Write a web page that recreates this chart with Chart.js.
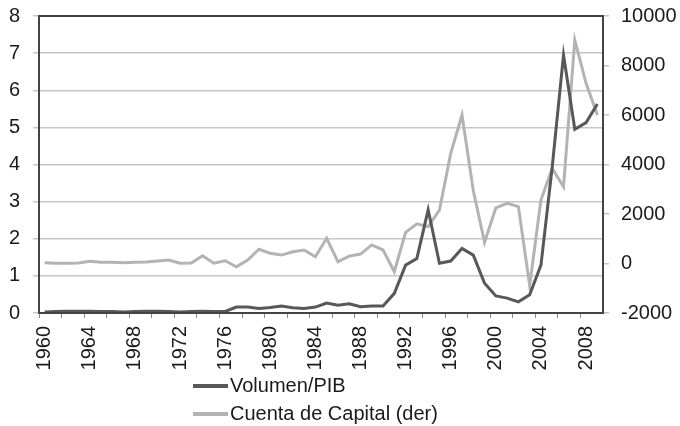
<!DOCTYPE html>
<html>
<head>
<meta charset="utf-8">
<script src="https://cdn.jsdelivr.net/npm/chart.js@4/dist/chart.umd.min.js"></script>
<style>
  body { margin: 0; background: #fff; }
  #wrap { position: relative; width: 680px; height: 426px; }
  #legend { position: absolute; left: 193px; top: 371px; font: 20px "Liberation Sans", Arial, sans-serif; color: #1a1a1a; }
  .item { height: 28px; line-height: 28px; white-space: nowrap; }
  .swatch { display: inline-block; width: 35px; height: 4px; vertical-align: middle; margin-right: 2px; position: relative; top: -1px; }
</style>
</head>
<body>
<div id="wrap">
  <canvas id="chart" width="680" height="426"></canvas>
  <div id="legend"></div>
</div>
<script>
// Years on the category axis
const years = ['1960', '1961', '1962', '1963', '1964', '1965', '1966', '1967', '1968', '1969',
    '1970', '1971', '1972', '1973', '1974', '1975', '1976', '1977', '1978', '1979',
    '1980', '1981', '1982', '1983', '1984', '1985', '1986', '1987', '1988', '1989',
    '1990', '1991', '1992', '1993', '1994', '1995', '1996', '1997', '1998', '1999',
    '2000', '2001', '2002', '2003', '2004', '2005', '2006', '2007', '2008', '2009'];

// Volumen/PIB (left axis)
const volumenPib = [0.03, 0.04, 0.05, 0.05, 0.05, 0.04, 0.04, 0.03, 0.04, 0.05,
    0.05, 0.04, 0.03, 0.04, 0.05, 0.04, 0.04, 0.16, 0.16, 0.12,
    0.15, 0.19, 0.14, 0.12, 0.16, 0.27, 0.21, 0.25, 0.17, 0.19,
    0.19, 0.53, 1.29, 1.47, 2.78, 1.34, 1.40, 1.74, 1.56, 0.80,
    0.46, 0.40, 0.30, 0.49, 1.29, 3.94, 6.95, 4.95, 5.13, 5.63];

// Cuenta de Capital (right axis)
const cuentaCapital = [30, 10, 10, 20, 90, 50, 50, 30, 50, 60,
    100, 140, 10, 20, 315, 10, 110, -130, 140, 575,
    410, 340, 475, 545, 270, 1018, 70, 300, 380, 750,
    545, -330, 1260, 1600, 1490, 2160, 4450, 6000, 2950, 855,
    2250, 2430, 2300, -890, 2570, 3840, 3100, 9030, 7280, 6000];

// Only every fourth year gets a label
const labelEvery = 4;

const tickFont = { family: 'Liberation Sans, Arial, sans-serif', size: 20 };
const textColor = '#1a1a1a';

// Draws the box round the plot area
const frame = {
    id: 'frame',
    afterDatasetsDraw(chart) {
        const a = chart.chartArea;
        const ctx = chart.ctx;
        ctx.save();
        ctx.strokeStyle = '#444';
        ctx.lineWidth = 2;
        ctx.strokeRect(a.left, a.top, a.right - a.left, a.bottom - a.top);
        ctx.restore();
    }
};

// fixed axis sizes so the plot box sits where it does in the picture
function fixWidth(w) {
    return (scale) => {
        scale.width = w;
        scale.paddingTop = 0;
        scale.paddingBottom = 0;
    };
}

const ctx = document.getElementById('chart').getContext('2d');
const chart = new Chart(ctx, {
    type: 'line',
    data: {
        labels: years,
        datasets: [{
            label: 'Volumen/PIB',
            data: volumenPib,
            yAxisID: 'y',
            borderColor: '#585858',
            backgroundColor: '#585858',
            borderWidth: 3,
            pointRadius: 0,
            tension: 0
        }, {
            label: 'Cuenta de Capital (der)',
            data: cuentaCapital,
            yAxisID: 'y2',
            borderColor: '#b3b3b3',
            backgroundColor: '#b3b3b3',
            borderWidth: 3,
            pointRadius: 0,
            tension: 0
        }]
    },
    options: {
        responsive: false,
        animation: false,
        devicePixelRatio: 1,
        layout: { padding: { top: 16 } },
        plugins: {
            legend: { display: false },
            tooltip: { enabled: false }
        },
        scales: {
            x: {
                type: 'category',
                offset: true,
                grid: {
                    offset: true,
                    drawOnChartArea: false,
                    tickLength: 5,
                    color: (c) => (c.index % 2 === 0 ? '#888' : 'rgba(0,0,0,0)'),
                    lineWidth: 1
                },
                border: { color: '#444', width: 2 },
                ticks: {
                    autoSkip: false,
                    minRotation: 90,
                    maxRotation: 90,
                    padding: 8,
                    font: tickFont,
                    color: textColor,
                    callback: function (value, index) {
                        return index % labelEvery === 0 ? this.getLabelForValue(value) : '';
                    }
                },
                afterFit: (scale) => { scale.height = 113; }
            },
            y: {
                position: 'left',
                min: 0,
                max: 8,
                ticks: { stepSize: 1, padding: 13, font: tickFont, color: textColor },
                grid: { color: '#c6c6c6', lineWidth: 1.5, tickLength: 6 },
                border: { color: '#444', width: 2 },
                afterFit: fixWidth(39)
            },
            y2: {
                position: 'right',
                min: -2000,
                max: 10000,
                ticks: {
                    stepSize: 2000, padding: 12, font: tickFont, color: textColor,
                    callback: (v) => String(v)
                },
                grid: { drawOnChartArea: false, color: '#c6c6c6', lineWidth: 1.5, tickLength: 6 },
                border: { color: '#444', width: 2 },
                afterFit: fixWidth(77)
            }
        }
    },
    plugins: [frame]
});

// Legend built from the datasets, stacked under the axis
const legend = document.getElementById('legend');
chart.data.datasets.forEach((ds) => {
    const row = document.createElement('div');
    row.className = 'item';
    const sw = document.createElement('span');
    sw.className = 'swatch';
    sw.style.background = ds.borderColor;
    row.appendChild(sw);
    row.appendChild(document.createTextNode(ds.label));
    legend.appendChild(row);
});
</script>
</body>
</html>
